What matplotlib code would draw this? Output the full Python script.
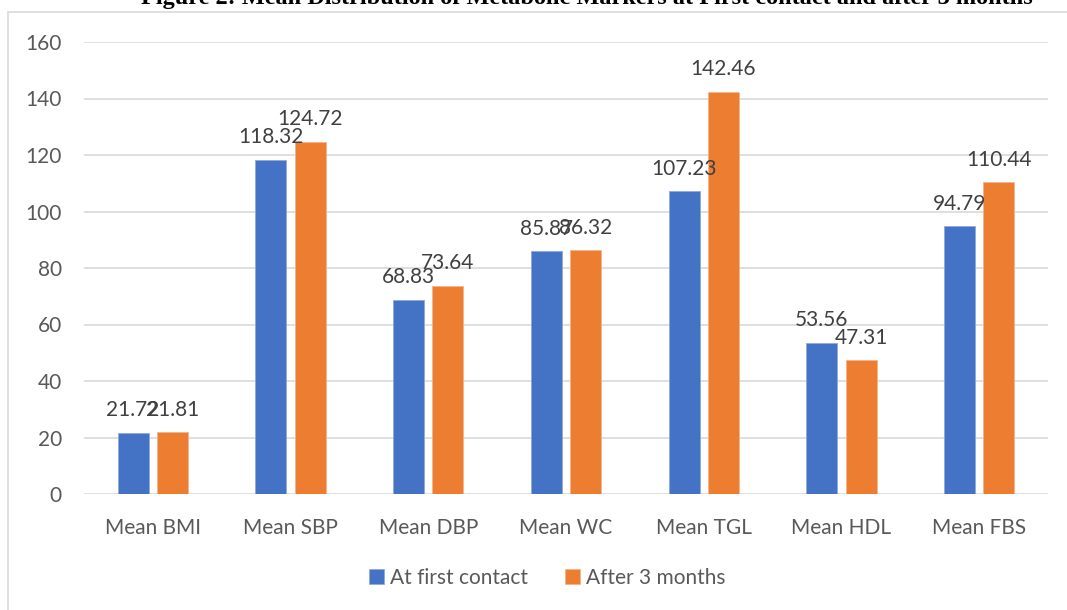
import matplotlib
matplotlib.use("Agg")
import matplotlib.pyplot as plt
import numpy as np
from matplotlib.patches import Rectangle

# dados
categorias = ["Mean BMI", "Mean SBP", "Mean DBP", "Mean WC", "Mean TGL", "Mean HDL", "Mean FBS"]
primeiro_contato = [21.72, 118.32, 68.83, 85.87, 107.23, 53.56, 94.79]
apos_3_meses = [21.81, 124.72, 73.64, 86.32, 142.46, 47.31, 110.44]
series = ["At first contact", "After 3 months"]
cores = ["#4472C4", "#ED7D31"]

plt.rcParams["font.family"] = ["Lato", "DejaVu Sans"]

fig = plt.figure(figsize=(10.67, 6.10), dpi=100)
W, H = 1067, 610

# moldura cinza clara do gráfico
fig.patches.append(Rectangle((8 / W, -0.1), 1.2, 1 - 12 / H + 0.1, transform=fig.transFigure,
                             fill=False, edgecolor="#d9d9d9", linewidth=1.2))

# título (cortado no topo, como no original)
fig.text(0.55, 1 - 4 / H, "Figure 2: Mean Distribution of Metabolic Markers at First contact and after 3 months",
         ha="center", va="baseline", fontsize=17.5, fontweight="bold",
         family=["Liberation Serif", "DejaVu Serif"], color="black")

ax = fig.add_axes([84 / W, 1 - 494 / H, (1048 - 84) / W, (494 - 42) / H])

x = np.arange(len(categorias))
largura = 0.225
desloc = 0.143

b1 = ax.bar(x - desloc, primeiro_contato, largura, color=cores[0], label=series[0],
            edgecolor="#8fa9dc", linewidth=0.6, zorder=3)
b2 = ax.bar(x + desloc, apos_3_meses, largura, color=cores[1], label=series[1],
            edgecolor="#f3b48a", linewidth=0.6, zorder=3)

ax.bar_label(b1, labels=[f"{v:.2f}" for v in primeiro_contato], padding=9, fontsize=15, color="#404040")
ax.bar_label(b2, labels=[f"{v:.2f}" for v in apos_3_meses], padding=9, fontsize=15, color="#404040")

ax.set_xlim(-0.5, len(categorias) - 0.5)
ax.set_ylim(0, 160)
ax.set_yticks(range(0, 161, 20))
ax.yaxis.grid(True, color="#d9d9d9", linewidth=1.2, zorder=0)
ax.set_xticks(x)
ax.set_xticklabels(categorias)
ax.tick_params(axis="both", length=0, labelsize=15, labelcolor="#595959")
ax.tick_params(axis="x", pad=17)
ax.tick_params(axis="y", pad=16)
for s in ax.spines.values():
    s.set_visible(False)
ax.set_axisbelow(True)

fig.legend(handles=[b1, b2], labels=series, loc="center", bbox_to_anchor=(0.513, 1 - 578 / H),
           ncol=2, frameon=False, fontsize=15, labelcolor="#595959", handlelength=0.7,
           handleheight=0.7, handletextpad=0.3, columnspacing=1.8)

fig.savefig("out.png", dpi=100)
